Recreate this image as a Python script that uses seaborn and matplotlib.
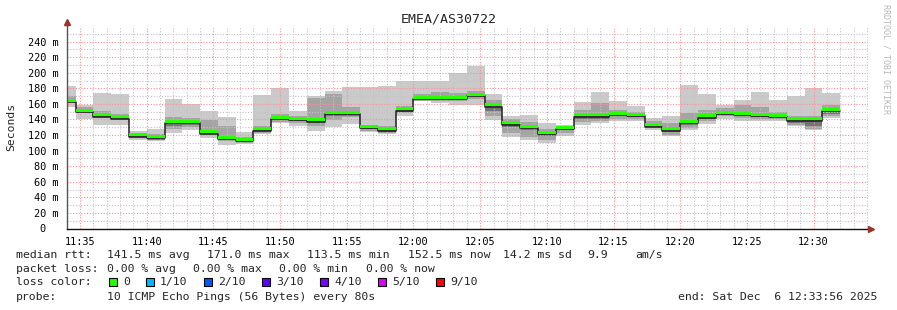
import numpy as np
import pandas as pd
import matplotlib
matplotlib.use("Agg")
import matplotlib.pyplot as plt
import matplotlib.dates as mdates
from matplotlib.patches import Rectangle
import seaborn as sns

# ---------------- data (ms) ----------------
step_start = "2025-12-06 11:33:20"
step_seconds = 80
view_start = "2025-12-06 11:34:01"
view_end = "2025-12-06 12:34:05"

median_ms = [164, 150.5, 145.2, 142.6, 119.5, 117.3, 136.6, 137, 123.3, 116, 113.5,
             127.2, 142.2, 140.9, 138.7, 148.6, 148.6, 130.2, 127.2, 152.9, 167.9, 167.5,
             167.5, 171, 158, 134.9, 130.2, 122.9, 129.3, 145.2, 145.2, 147.3, 146, 132.3,
             127.2, 137, 143.9, 148.6, 147.3, 146, 144.3, 140, 140, 152.5]
min_ms = [155.6, 140.6, 133.3, 132.5, 114, 111.9, 123, 126, 116.2, 107.6, 108.5,
          121.3, 135.5, 131.2, 125.6, 129.9, 134.2, 123.9, 121.3, 144, 163.3, 161.2,
          159, 158.2, 139.7, 117, 114, 109.7, 118.3, 132.5, 135.5, 137.6, 138.5, 126.9,
          118.3, 126.9, 134.6, 141, 138.5, 138.5, 137.6, 131.2, 126.9, 141.9]
max_ms = [183.5, 159, 174.5, 173.2, 125.6, 128.2, 166.7, 160.3, 151.3, 143.6, 123.9,
          171.9, 180.4, 150.5, 169.7, 177, 181.3, 181.3, 183.5, 189.9, 189.9, 189.9,
          199.7, 209.2, 172.7, 144, 146.2, 135.5, 133.3, 162.5, 175.3, 164.2, 156.9, 141.9,
          144.9, 184.7, 172.7, 159, 165.5, 175.3, 165.5, 169.7, 180.4, 174]
p2_ms = [161, 148, 142, 139, 116, 113, 128, 130, 120.5, 112.8, 110,
         123, 137, 136, 131.2, 139.7, 142.7, 125, 123, 148, 164, 164,
         164, 166, 145, 122.6, 118, 114, 123, 137, 138, 141, 141, 128.5,
         120, 129, 138, 144, 141.9, 140, 140, 132.5, 128.2, 144]
p9_ms = [170, 156, 150.5, 147.5, 122, 121, 143, 142, 139.7, 132, 117,
         132, 147, 145, 167.6, 172.7, 155.6, 133, 131, 157, 173, 175,
         174, 176, 165, 141, 137, 128, 132, 152, 161, 152, 150, 138.5,
         135, 148.3, 152, 155, 159, 156, 149, 144, 144, 159]
core_lo_ms = [162, 148.5, 143, 140.5, 117.5, 113.5, 131, 133, 121, 113.5, 111,
              125, 139.5, 138.5, 136, 145, 145, 127.5, 124.5, 150, 165.5, 165.5,
              165.5, 168.5, 151, 130, 126.5, 119, 126, 141, 141, 144, 143, 130,
              123.5, 133, 140.5, 146, 144, 143, 142, 136, 131, 147]
core_hi_ms = [166, 152, 146.5, 144, 120.5, 117.5, 137, 138, 125, 117, 114,
              128, 143, 142, 140, 150, 150, 131, 128, 154, 169, 169,
              169, 172, 159, 136, 131, 124, 130, 146, 146, 148, 147, 133.5,
              128, 138, 145, 149.5, 148.5, 147, 145, 141, 141, 153.5]

y_ticks = [0, 20, 40, 60, 80, 100, 120, 140, 160, 180, 200, 220, 240]
y_tick_labels = ["0  ", "20 m", "40 m", "60 m", "80 m", "100 m", "120 m", "140 m",
                 "160 m", "180 m", "200 m", "220 m", "240 m"]

loss_labels = ["0", "1/10", "2/10", "3/10", "4/10", "5/10", "9/10"]
loss_colors = ["#26ff00", "#00b8ff", "#0059ff", "#5e00ff", "#7e00ff", "#dd00ff", "#ff0000"]

title = "EMEA/AS30722"
rtt_line = ["median rtt:", "141.5 ms avg", "171.0 ms max", "113.5 ms min",
            "152.5 ms now", "14.2 ms sd", "9.9", "am/s"]
loss_line = ["packet loss:", "0.00 % avg", "0.00 % max", "0.00 % min", "0.00 % now"]
probe_line = ["probe:", "10 ICMP Echo Pings (56 Bytes) every 80s"]
end_text = "end: Sat Dec  6 12:33:56 2025"

# ---------------- style ----------------
sns.set_theme(style="white")
MONO = ["DejaVu Sans Mono"]
plt.rcParams["font.family"] = MONO

W, H = 897, 310
fig = plt.figure(figsize=(W / 100, H / 100), dpi=100)
fig.patch.set_facecolor("white")

def fx(px):
    return px / W

def fy(py):
    return 1 - py / H

ax = fig.add_axes([fx(67), fy(228.5), fx(868) - fx(67), fy(26) - fy(228.5)])
ax.set_facecolor("white")

times = pd.date_range(step_start, periods=len(median_ms) + 1, freq=f"{step_seconds}s").to_pydatetime()

def ext(a):
    a = np.asarray(a, dtype=float)
    return np.append(a, a[-1])

med = ext(median_ms)

ax.fill_between(times, ext(min_ms), ext(max_ms), step="post", color="#cacaca", lw=0, zorder=1)
ax.fill_between(times, ext(p2_ms), ext(p9_ms), step="post", color="#a4a4a4", lw=0, zorder=1.05)
ax.fill_between(times, ext(core_lo_ms), ext(core_hi_ms), step="post", color="#747474", lw=0, zorder=1.1)

df = pd.DataFrame({"time": times, "median": med - 1.5})
sns.lineplot(data=df, x="time", y="median", drawstyle="steps-post", color="#202020",
             lw=1.1, ax=ax, estimator=None, zorder=2.2)
ax.fill_between(times, med - 1, med + 2.8, step="post", color="#26ff00", lw=0, zorder=2.3)

ax.set_xlim(pd.Timestamp(view_start), pd.Timestamp(view_end))
ax.set_ylim(0, 260)
ax.set_xlabel("")
ax.set_ylabel("")

ax.xaxis.set_major_locator(mdates.MinuteLocator(byminute=range(0, 60, 5)))
ax.xaxis.set_minor_locator(mdates.MinuteLocator())
ax.xaxis.set_major_formatter(mdates.DateFormatter("%H:%M"))
ax.set_yticks(y_ticks)
ax.set_yticklabels(y_tick_labels)
ax.set_yticks(np.arange(10, 260, 20), minor=True)

ax.set_axisbelow("line")
dots = (0, (1, 1.5))
ax.grid(which="major", color="#ff9090", linestyle=dots, lw=0.8)
ax.grid(which="minor", color="#c4c4c4", linestyle=dots, lw=0.8)

ax.tick_params(axis="both", which="major", labelsize=7.4, length=2, width=0.8,
               colors="#333333", labelcolor="black", pad=4)
ax.tick_params(axis="both", which="minor", length=0)
for lab in ax.get_xticklabels() + ax.get_yticklabels():
    lab.set_family(MONO)

for s in ["top", "right"]:
    ax.spines[s].set_visible(False)
ax.spines["left"].set_color("#555555")
ax.spines["left"].set_linewidth(1.0)
ax.spines["bottom"].set_color("#111111")
ax.spines["bottom"].set_linewidth(1.0)

# axis extensions and arrows
ax.plot([0, 0], [1, 1.015], transform=ax.transAxes, color="#555555", lw=1.0, clip_on=False)
ax.plot([0], [1.018], transform=ax.transAxes, marker="^", ms=5, color="#a0302a",
        clip_on=False, zorder=5)
ax.plot([1.004], [0], transform=ax.transAxes, marker=">", ms=5, color="#a0302a",
        clip_on=False, zorder=5)

# title, y label, watermark
fig.text(0.5, fy(19), title, ha="center", va="center", fontsize=9.5, family=MONO)
fig.text(fx(11), fy(127), "Seconds", ha="center", va="center", rotation=90,
         fontsize=8.2, family=MONO)
fig.text(fx(886), fy(4), "RRDTOOL / TOBI OETIKER", ha="center", va="top",
         rotation=270, fontsize=6.0, color="#b8b8b8", family=MONO)

# legend text
fs = 8.25
rtt_x = [16, 107, 207, 307, 408, 503, 587, 635]
for txt, x in zip(rtt_line, rtt_x):
    fig.text(fx(x), fy(255), txt, ha="left", va="center", fontsize=fs, family=MONO)
loss_x = [16, 107, 193, 279, 366]
for txt, x in zip(loss_line, loss_x):
    fig.text(fx(x), fy(268.5), txt, ha="left", va="center", fontsize=fs, family=MONO)

fig.text(fx(16), fy(282), "loss color:", ha="left", va="center", fontsize=fs, family=MONO)
box_x = [109, 146, 204, 262, 320, 378, 436]
for lab, col, bx in zip(loss_labels, loss_colors, box_x):
    r = Rectangle((fx(bx), fy(286)), fx(7.5), fy(278) - fy(286), transform=fig.transFigure,
                  facecolor=col, edgecolor="black", lw=0.8)
    fig.add_artist(r)
    fig.text(fx(bx + 14), fy(282), lab, ha="left", va="center", fontsize=fs, family=MONO)

fig.text(fx(16), fy(296.5), probe_line[0], ha="left", va="center", fontsize=fs, family=MONO)
fig.text(fx(107), fy(296.5), probe_line[1], ha="left", va="center", fontsize=fs, family=MONO)
fig.text(fx(678), fy(296.5), end_text, ha="left", va="center", fontsize=fs, family=MONO)

fig.savefig("out.png", dpi=100, facecolor="white")
